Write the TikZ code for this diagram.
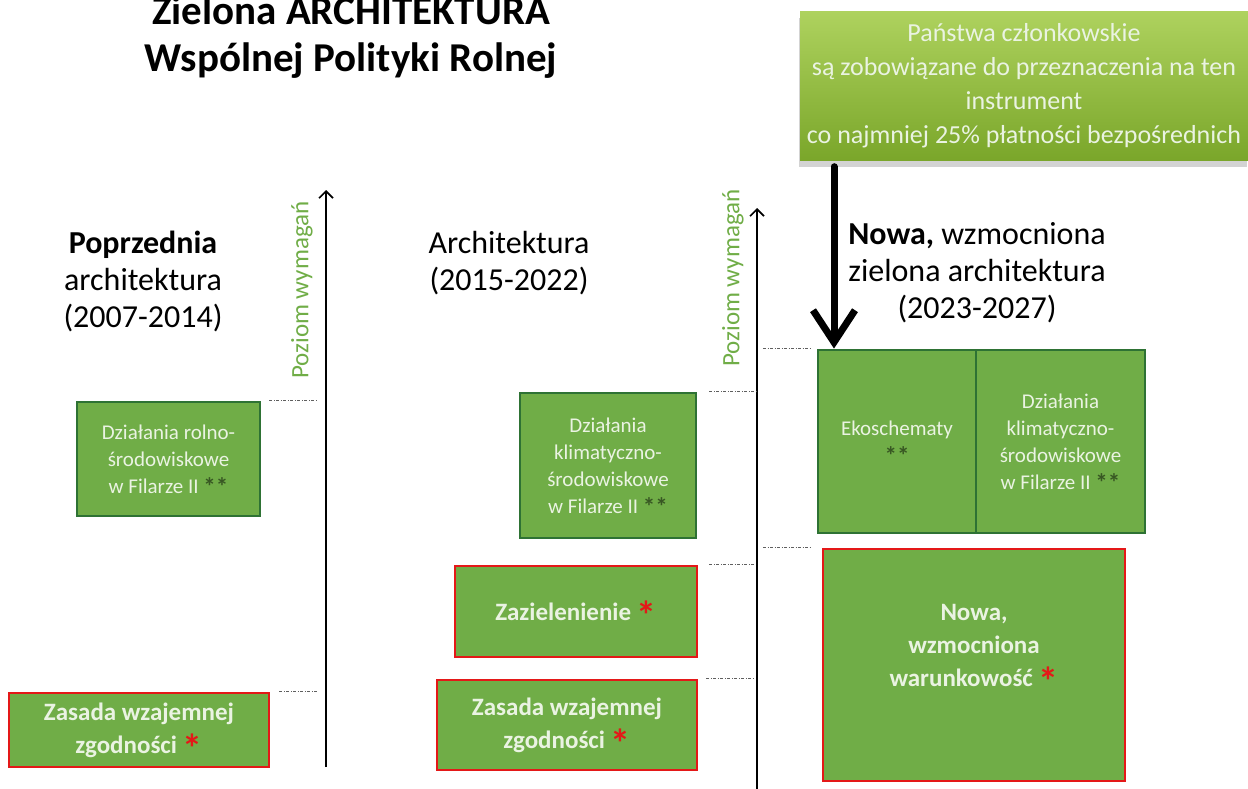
\documentclass[tikz,border=0pt]{standalone}
\usepackage{fontspec}
\setmainfont{Carlito}
\usetikzlibrary{arrows.meta,positioning,shadows}
\definecolor{boxGreen}{RGB}{112,173,71}
\definecolor{edgeGreen}{RGB}{46,114,52}
\definecolor{edgeRed}{RGB}{228,24,24}
\definecolor{starGreen}{RGB}{56,87,35}
\definecolor{paleText}{RGB}{234,243,226}
\definecolor{noteTop}{RGB}{174,210,94}
\definecolor{noteBot}{RGB}{122,166,42}
\definecolor{axisLabel}{RGB}{112,173,71}
\definecolor{leaderGray}{RGB}{95,95,95}
\newcommand{\smallstars}{\smash{\raisebox{-2pt}{\textcolor{starGreen}{\bfseries\fontsize{25}{25}\selectfont **}}}}
\newcommand{\redstar}{\smash{\raisebox{-9pt}{\textcolor{edgeRed}{\bfseries\fontsize{40}{40}\selectfont *}}}}

\begin{document}
\begin{tikzpicture}[x=1pt,y=-1pt,
    greenbox/.style={draw=edgeGreen, line width=2.8pt, fill=boxGreen, text=paleText,
      align=center, inner sep=0pt, font=\fontsize{21}{27}\selectfont},
    redbox/.style={draw=edgeRed, line width=2.5pt, fill=boxGreen, text=paleText,
      align=center, inner sep=0pt, font=\bfseries\fontsize{25}{33}\selectfont},
    heading/.style={align=center, anchor=base, font=\fontsize{32}{37}\selectfont},
    axislabel/.style={rotate=90, text=axisLabel, font=\fontsize{25}{25}\selectfont},
    leader/.style={draw=leaderGray, line width=1pt, dash pattern=on 3pt off 1.5pt on 1pt off 1.5pt},
    axis/.style={line width=1.6pt, -{Straight Barb[length=7pt,width=14pt]}},
    bigarrow/.style={line width=7pt, line cap=round, shorten <=6pt,
      -{Straight Barb[length=32pt,width=42pt]}}]
  \useasboundingbox (0,0) rectangle (1248,789);
  % Title (base = last line)
  \node[font=\bfseries\fontsize{41}{47}\selectfont, align=center, anchor=base] (title)
    at (351,72) {Zielona ARCHITEKTURA\\Wspólnej Polityki Rolnej};
  % Note on the required share
  \node[minimum width=448pt, minimum height=149pt, top color=noteTop, bottom color=noteBot,
    drop shadow={shadow xshift=-1pt, shadow yshift=-7pt, opacity=0.35},
    text=paleText, align=center, font=\fontsize{26}{34}\selectfont] (note) at (1024,86)
    {Państwa członkowskie\\są zobowiązane do przeznaczenia na ten\\instrument\\co najmniej 25\% płatności bezpośrednich};
  % Headings
  \node[heading] (hleft) at (143,327) {\textbf{Poprzednia}\\architektura\\(2007-2014)};
  \node[heading] (hmid) at (509,290) {Architektura\\(2015-2022)};
  \node[heading] (hright) at (977,318) {\textbf{Nowa,} wzmocniona\\zielona architektura\\(2023-2027)};
  % Axes
  \coordinate (axLbot) at (326,767);
  \coordinate (axLtop) at (326,190);
  \coordinate (axMbot) at (757,789);
  \coordinate (axMtop) at (757,208);
  \draw[axis] (axLbot) -- (axLtop);
  \draw[axis] (axMbot) -- (axMtop);
  \node[axislabel] (lblL) at (302,290) {Poziom wymagań};
  \node[axislabel] (lblM) at (733,278) {Poziom wymagań};
  % Previous architecture
  \node[greenbox, minimum width=183pt, minimum height=114pt] (rolno) at (168.5,459)
    {Działania rolno-\\środowiskowe\\w Filarze II \smallstars};
  \node[redbox, minimum width=260pt, minimum height=74pt] (zgodL) at (139,730)
    {Zasada wzajemnej\\zgodności \redstar};
  % Architecture 2015-2022
  \node[greenbox, minimum width=176pt, minimum height=145pt] (klimM) at (608,465.5)
    {Działania\\klimatyczno-\\środowiskowe\\w Filarze II \smallstars};
  \node[redbox, minimum width=242pt, minimum height=91pt] (zaziel) at (576,611.5)
    {Zazielenienie \redstar};
  \node[redbox, minimum width=260pt, minimum height=90pt] (zgodM) at (567,725)
    {Zasada wzajemnej\\zgodności \redstar};
  % New architecture 2023-2027
  \node[greenbox, minimum width=158pt, minimum height=183pt] (eko) at (897,441.5)
    {Ekoschematy\\\smallstars};
  \node[greenbox, minimum width=169pt, minimum height=183pt] (klimN) at (1060.5,441.5)
    {Działania\\klimatyczno-\\środowiskowe\\w Filarze II \smallstars};
  \node[redbox, minimum width=302pt, minimum height=232pt] (warunk) at (974,665) {};
  \node[redbox, draw=none, fill=none] (warunkTxt) at (974,645)
    {Nowa,\\wzmocniona\\warunkowość \redstar};
  % Arrow from the note
  \coordinate (arrX) at (834,0);
  \draw[bigarrow] (note.south -| arrX) -- (eko.north -| arrX);
  % Level leaders
  \draw[leader] ([xshift=8pt]rolno.north east) -- ([xshift=-9pt]rolno.north east -| axLtop);
  \draw[leader] ([xshift=9pt]zgodL.north east) -- ([xshift=-8pt]zgodL.north east -| axLtop);
  \draw[leader] ([xshift=12pt]klimM.north east) -- (klimM.north east -| axMtop);
  \draw[leader] ([xshift=11pt]zaziel.north east) -- ([xshift=-2pt]zaziel.north east -| axMtop);
  \draw[leader] ([xshift=8pt]zgodM.north east) -- ([xshift=-4pt]zgodM.north east -| axMtop);
  \draw[leader] ([xshift=6pt]eko.north west -| axMtop) -- ([xshift=-7pt]eko.north west);
  \draw[leader] ([xshift=6pt]warunk.north west -| axMtop) -- ([xshift=-11pt]warunk.north west);
\end{tikzpicture}
\end{document}
